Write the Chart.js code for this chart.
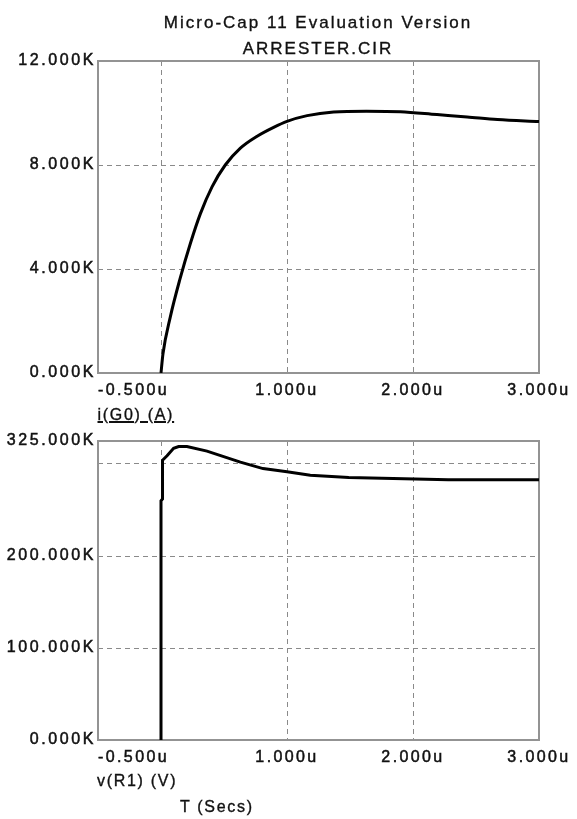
<!DOCTYPE html>
<html>
<head>
<meta charset="utf-8">
<title>ARRESTER.CIR</title>
<script src="https://cdn.jsdelivr.net/npm/chart.js@4/dist/chart.umd.min.js"></script>
<style>
  html, body { margin: 0; padding: 0; background: #fff; }
  #page { position: relative; width: 577px; height: 819px; overflow: hidden;
          font-family: "Liberation Sans", Arial, sans-serif; color: #111; }
  canvas { position: absolute; left: 0; }
  .txt { position: absolute; line-height: 1; white-space: nowrap; font-size: 16px; letter-spacing: 1.7px;
         -webkit-text-stroke: 0.35px #111; }
  .title { font-size: 17px; letter-spacing: 2px; left: 118px; width: 400px; text-align: center; }
</style>
</head>
<body>
<div id="page">
  <canvas id="chartTop" width="577" height="410" style="top:0"></canvas>
  <canvas id="chartBottom" width="577" height="409" style="top:410px"></canvas>
  <div class="txt title" style="top:13.6px">Micro-Cap 11 Evaluation Version</div>
  <div class="txt title" style="top:39.6px">ARRESTER.CIR</div>
  <div class="txt" style="top:406.5px; left:97.5px; text-decoration:underline; text-decoration-thickness:1.5px;">i(G0) (A)</div>
  <div class="txt" style="top:772.5px; left:97px">v(R1) (V)</div>
  <div class="txt" style="top:799px; left:180px">T (Secs)</div>
</div>
<script>
// time in microseconds, values in K (kA / kV)
const currentTime = [0, 0.016, 0.074, 0.148, 0.233, 0.312, 0.405, 0.51, 0.63, 0.76, 0.894, 1.0, 1.16, 1.37, 1.63, 1.9, 2.19, 2.43, 2.67, 3.0];
const currentKA   = [0, 0.75, 2.16, 3.57, 4.98, 6.12, 7.16, 8.0, 8.65, 9.1, 9.45, 9.68, 9.9, 10.04, 10.07, 10.05, 9.94, 9.85, 9.75, 9.67];

const voltageTime = [0, 0, 0.012, 0.012, 0.048, 0.1, 0.14, 0.206, 0.365, 0.63, 0.81, 1.0, 1.185, 1.49, 2.28, 3.0];
const voltageKV   = [0, 260, 262, 304, 309, 317, 319, 319, 314, 302, 295, 291.5, 287.7, 285.2, 283, 283];

// axis ticks and their labels
const timeTicks  = [-0.5, 0, 1, 2, 3];
const timeLabels = ['-0.500u', '', '1.000u', '2.000u', '3.000u'];
const currentTicks  = [0, 4, 8, 12];
const currentLabels = ['0.000K', '4.000K', '8.000K', '12.000K'];
const voltageTicks  = [0, 100, 200, 300, 325];
const voltageLabels = ['0.000K', '100.000K', '200.000K', '', '325.000K'];

const FONT = '"Liberation Sans", Arial, sans-serif';
const GRID = '#8a8a8a';
const TEXT = '#111';

// wide spaced text like the simulator's screen font
const spacingPlugin = {
    id: 'spacing',
    beforeDraw(chart) { chart.ctx.letterSpacing = '2.6px'; }
};

// grey plot frame
const framePlugin = {
    id: 'frame',
    beforeDatasetsDraw(chart) {
        const a = chart.chartArea;
        const ctx = chart.ctx;
        ctx.save();
        ctx.strokeStyle = '#939393';
        ctx.lineWidth = 2;
        ctx.strokeRect(a.left, a.top, a.right - a.left, a.bottom - a.top);
        ctx.restore();
    }
};

// time labels under each plot (first one is left aligned)
const timeLabelPlugin = {
    id: 'timeLabels',
    afterDraw(chart) {
        const ctx = chart.ctx;
        const x = chart.scales.x;
        ctx.save();
        ctx.font = '16px ' + FONT;
        ctx.letterSpacing = '2.4px';
        ctx.fillStyle = TEXT;
        ctx.strokeStyle = TEXT;
        ctx.lineWidth = 0.5;
        ctx.textBaseline = 'alphabetic';
        timeTicks.forEach((t, i) => {
            ctx.textAlign = i === 0 ? 'left' : 'center';
            const px = x.getPixelForValue(t);
            const py = chart.chartArea.bottom + 22;
            ctx.fillText(timeLabels[i], px, py);
            ctx.strokeText(timeLabels[i], px, py);
        });
        ctx.restore();
    }
};

function gridColor(ticks) {
    const lo = ticks[0], hi = ticks[ticks.length - 1];
    return (c) => (c.tick && (c.tick.value === lo || c.tick.value === hi)) ? 'rgba(0,0,0,0)' : GRID;
}

function renderScopeChart(canvasId, times, values, yTicks, yLabels, padding, smooth) {
    const ctx = document.getElementById(canvasId).getContext('2d');
    return new Chart(ctx, {
        type: 'line',
        data: {
            datasets: [{
                data: times.map((t, i) => ({ x: t, y: values[i] })),
                borderColor: '#000',
                borderWidth: 3,
                pointRadius: 0,
                tension: smooth ? 0.4 : 0,
                cubicInterpolationMode: smooth ? 'monotone' : 'default',
                fill: false
            }]
        },
        options: {
            responsive: false,
            devicePixelRatio: 1,
            animation: false,
            layout: { padding: padding },
            plugins: { legend: { display: false }, tooltip: { enabled: false } },
            scales: {
                x: {
                    type: 'linear',
                    min: timeTicks[0],
                    max: timeTicks[timeTicks.length - 1],
                    afterBuildTicks: (s) => { s.ticks = timeTicks.map(v => ({ value: v })); },
                    afterFit: (s) => { s.height = 0; },
                    ticks: { display: false },
                    grid: { color: gridColor(timeTicks), lineWidth: 1, drawTicks: false },
                    border: { display: false, dash: [5, 4] }
                },
                y: {
                    type: 'linear',
                    min: yTicks[0],
                    max: yTicks[yTicks.length - 1],
                    afterBuildTicks: (s) => { s.ticks = yTicks.map(v => ({ value: v })); },
                    afterFit: (s) => { s.width = 98; },
                    ticks: {
                        autoSkip: false,
                        padding: 2,
                        color: TEXT,
                        textStrokeColor: TEXT,
                        textStrokeWidth: 0.5,
                        font: { family: FONT, size: 16 },
                        callback: (value, index) => yLabels[index]
                    },
                    grid: { color: gridColor(yTicks), lineWidth: 1, drawTicks: false },
                    border: { display: false, dash: [5, 4] }
                }
            }
        },
        plugins: [spacingPlugin, framePlugin, timeLabelPlugin]
    });
}

renderScopeChart('chartTop', currentTime, currentKA, currentTicks, currentLabels,
    { top: 61, right: 38, bottom: 37, left: 0 }, true);
renderScopeChart('chartBottom', voltageTime, voltageKV, voltageTicks, voltageLabels,
    { top: 31, right: 38, bottom: 79, left: 0 }, false);
</script>
</body>
</html>
